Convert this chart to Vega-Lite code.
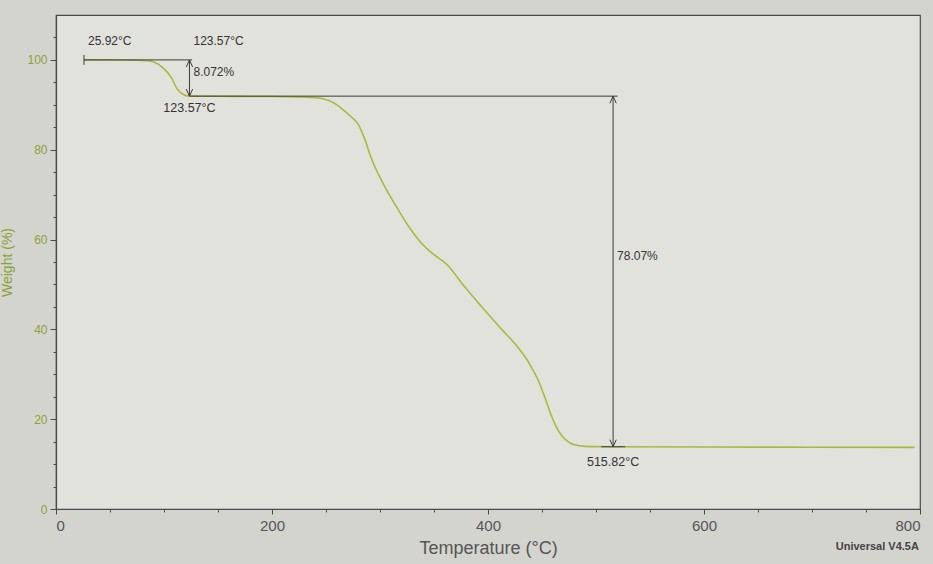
{
  "$schema": "https://vega.github.io/schema/vega-lite/v6.json",
  "width": 864,
  "height": 494,
  "autosize": {"type": "none"},
  "padding": {"left": 56, "top": 15, "right": 13, "bottom": 55},
  "background": "#d4d4cf",
  "config": {
    "view": {"stroke": "#4a4a4a", "strokeWidth": 1.2, "fill": "#e2e2dd"},
    "font": "Liberation Sans",
    "axis": {"labelFont": "Liberation Sans", "titleFont": "Liberation Sans", "grid": false, "domainColor": "#4a4a4a", "tickColor": "#4a4a4a", "domainWidth": 1.2}
  },
  "datasets": {
    "curve": [
      {"t": 25.92, "w": 100.0},
      {"t": 60, "w": 99.98},
      {"t": 85, "w": 99.8},
      {"t": 95, "w": 99.0},
      {"t": 100, "w": 98.0},
      {"t": 107, "w": 96.0},
      {"t": 112, "w": 93.6},
      {"t": 117, "w": 92.4},
      {"t": 123.57, "w": 91.93},
      {"t": 150, "w": 91.9},
      {"t": 200, "w": 91.85},
      {"t": 240, "w": 91.6},
      {"t": 252, "w": 91.0},
      {"t": 260, "w": 90.0},
      {"t": 266, "w": 88.9},
      {"t": 273, "w": 87.4},
      {"t": 280, "w": 85.6},
      {"t": 286, "w": 82.3},
      {"t": 291.5, "w": 78.4},
      {"t": 302.6, "w": 72.6},
      {"t": 317, "w": 66.6},
      {"t": 328, "w": 62.4},
      {"t": 338, "w": 59.3},
      {"t": 348.6, "w": 56.9},
      {"t": 361.7, "w": 54.5},
      {"t": 379, "w": 49.3},
      {"t": 395, "w": 44.8},
      {"t": 411.5, "w": 40.3},
      {"t": 428, "w": 35.9},
      {"t": 438, "w": 32.5},
      {"t": 447, "w": 28.4},
      {"t": 453, "w": 24.6},
      {"t": 458, "w": 21.2},
      {"t": 463, "w": 18.4},
      {"t": 468, "w": 16.4},
      {"t": 474, "w": 15.0},
      {"t": 480, "w": 14.3},
      {"t": 490, "w": 13.95},
      {"t": 515.82, "w": 13.86},
      {"t": 600, "w": 13.8},
      {"t": 700, "w": 13.76},
      {"t": 795, "w": 13.72}
    ],
    "segs": [
      {"t1": 25.92, "t2": 126, "w1": 100, "w2": 100},
      {"t1": 25.92, "t2": 25.92, "w1": 98.9, "w2": 101.1},
      {"t1": 123.57, "t2": 520, "w1": 91.93, "w2": 91.93},
      {"t1": 123.57, "t2": 123.57, "w1": 100, "w2": 91.93},
      {"t1": 515.82, "t2": 515.82, "w1": 91.93, "w2": 13.86},
      {"t1": 505, "t2": 527, "w1": 13.86, "w2": 13.86}
    ],
    "up": [
      {"t": 123.57, "w": 100},
      {"t": 515.82, "w": 91.93}
    ],
    "down": [
      {"t": 123.57, "w": 91.93},
      {"t": 515.82, "w": 13.86}
    ],
    "leftlabels": [
      {"t": 25.92, "w": 104.2, "txt": "25.92°C"},
      {"t": 123.57, "w": 104.2, "txt": "123.57°C"},
      {"t": 123.57, "w": 97.4, "txt": "8.072%"},
      {"t": 515.82, "w": 56.4, "txt": "78.07%"}
    ],
    "centerlabels": [
      {"t": 123.57, "w": 89.4, "txt": "123.57°C"},
      {"t": 515.82, "w": 10.4, "txt": "515.82°C"}
    ]
  },
  "layer": [
    {
      "data": {"name": "curve"},
      "mark": {"type": "line", "color": "#a9b940", "strokeWidth": 1.6, "interpolate": "monotone"},
      "encoding": {
        "x": {
          "field": "t", "type": "quantitative",
          "scale": {"domain": [0, 800], "nice": false},
          "axis": {"orient": "bottom", "values": [0, 200, 400, 600, 800], "tickSize": 5, "labelFontSize": 15, "labelColor": "#555", "labelPadding": 4, "title": "Temperature (°C)", "titleFontSize": 18, "titleFontWeight": "normal", "titleColor": "#555", "titlePadding": 6}
        },
        "y": {
          "field": "w", "type": "quantitative",
          "scale": {"domain": [0, 110], "nice": false},
          "axis": {"orient": "left", "values": [0, 20, 40, 60, 80, 100], "tickSize": 6, "labelFontSize": 12, "labelColor": "#8aa23a", "labelPadding": 3, "title": "Weight (%)", "titleFontSize": 14, "titleFontWeight": "normal", "titleColor": "#8aa23a", "titlePadding": 12}
        }
      }
    },
    {
      "data": {"name": "curve"},
      "mark": {"type": "point", "opacity": 0},
      "encoding": {
        "x": {"field": "t", "type": "quantitative", "axis": {"orient": "bottom", "values": [50, 100, 150, 250, 300, 350, 450, 500, 550, 650, 700, 750], "tickSize": 3, "labels": false, "domain": false, "title": null}},
        "y": {"field": "w", "type": "quantitative", "axis": {"orient": "left", "values": [5, 10, 15, 25, 30, 35, 45, 50, 55, 65, 70, 75, 85, 90, 95, 105], "tickSize": 3, "labels": false, "domain": false, "title": null}}
      }
    },
    {
      "data": {"name": "segs"},
      "mark": {"type": "rule", "color": "#3a3a3a", "strokeWidth": 1},
      "encoding": {
        "x": {"field": "t1", "type": "quantitative", "axis": null},
        "x2": {"field": "t2"},
        "y": {"field": "w1", "type": "quantitative", "axis": null},
        "y2": {"field": "w2"}
      }
    },
    {
      "data": {"name": "up"},
      "mark": {"type": "point", "shape": "M-0.45,1L0,0L0.45,1", "filled": false, "stroke": "#3a3a3a", "strokeWidth": 1, "size": 200, "opacity": 1},
      "encoding": {
        "x": {"field": "t", "type": "quantitative", "axis": null},
        "y": {"field": "w", "type": "quantitative", "axis": null}
      }
    },
    {
      "data": {"name": "down"},
      "mark": {"type": "point", "shape": "M-0.45,-1L0,0L0.45,-1", "filled": false, "stroke": "#3a3a3a", "strokeWidth": 1, "size": 200, "opacity": 1},
      "encoding": {
        "x": {"field": "t", "type": "quantitative", "axis": null},
        "y": {"field": "w", "type": "quantitative", "axis": null}
      }
    },
    {
      "data": {"name": "leftlabels"},
      "mark": {"type": "text", "align": "left", "baseline": "middle", "dx": 4, "fontSize": 12, "color": "#333", "font": "Liberation Sans"},
      "encoding": {
        "x": {"field": "t", "type": "quantitative", "axis": null},
        "y": {"field": "w", "type": "quantitative", "axis": null},
        "text": {"field": "txt"}
      }
    },
    {
      "data": {"name": "centerlabels"},
      "mark": {"type": "text", "align": "center", "baseline": "middle", "fontSize": 12.5, "color": "#333", "font": "Liberation Sans"},
      "encoding": {
        "x": {"field": "t", "type": "quantitative", "axis": null},
        "y": {"field": "w", "type": "quantitative", "axis": null},
        "text": {"field": "txt"}
      }
    },
    {
      "data": {"values": [{"txt": "Universal V4.5A"}]},
      "mark": {"type": "text", "align": "left", "baseline": "middle", "fontSize": 11, "fontWeight": "bold", "color": "#444", "font": "Liberation Sans"},
      "encoding": {
        "x": {"datum": 722, "type": "quantitative", "axis": null},
        "y": {"datum": -8.5, "type": "quantitative", "axis": null},
        "text": {"field": "txt"}
      }
    }
  ],
  "resolve": {"axis": {"x": "independent", "y": "independent"}}
}
